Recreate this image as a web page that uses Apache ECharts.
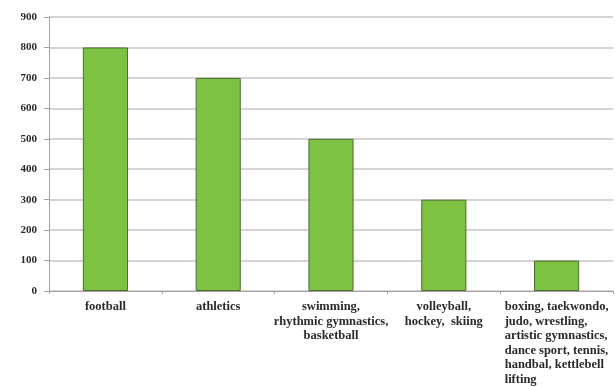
<!DOCTYPE html>
<html>
<head>
<meta charset="utf-8">
<script src="https://cdn.jsdelivr.net/npm/echarts@6/dist/echarts.min.js"></script>
<style>
  html, body { margin: 0; padding: 0; background: #fff; }
  #chart { width: 615px; height: 387px; }
</style>
</head>
<body>
<div id="chart"></div>
<script>
const categories = [
  'football',
  'athletics',
  'swimming,\nrhythmic gymnastics,\nbasketball',
  'volleyball,\nhockey,  skiing',
  'boxing, taekwondo,\njudo, wrestling,\nartistic gymnastics,\ndance sport, tennis,\nhandbal, kettlebell\nlifting'
];
const values = [800, 700, 500, 300, 100];
const yTicks = [0, 100, 200, 300, 400, 500, 600, 700, 800, 900];

const chart = echarts.init(document.getElementById('chart'), null, { renderer: 'canvas' });
const serif = '"Liberation Serif", "DejaVu Serif", serif';
const axisColor = '#a8a0a0';
const textColor = '#2a2a2a';

chart.setOption({
  animation: false,
  grid: { left: 49, right: 2, top: 17, bottom: 93 },
  xAxis: {
    type: 'category',
    data: categories,
    axisLine: { lineStyle: { color: axisColor, width: 1 } },
    axisTick: { show: true, length: 3, lineStyle: { color: axisColor } },
    axisLabel: {
      interval: 0,
      margin: 9,
      color: textColor,
      fontFamily: serif,
      fontWeight: 'bold',
      fontSize: 12.5,
      lineHeight: 14.5,
      // last label is left aligned in the source chart
      formatter: (v, i) => i === categories.length - 1 ? '{l|' + v.split('\n').join('}\n{l|') + '}' : v,
      rich: {
        l: { align: 'left', fontFamily: serif, fontWeight: 'bold', fontSize: 12.5, lineHeight: 14.5, color: textColor }
      }
    }
  },
  yAxis: {
    type: 'value',
    min: yTicks[0],
    max: yTicks[yTicks.length - 1],
    interval: 100,
    axisLine: { show: true, lineStyle: { color: axisColor } },
    axisTick: { show: true, length: 5, lineStyle: { color: axisColor } },
    axisLabel: {
      margin: 12,
      color: textColor,
      fontFamily: serif,
      fontWeight: 'bold',
      fontSize: 11
    },
    splitLine: { show: true, lineStyle: { color: '#cbc4c4', width: 1.5 } }
  },
  series: [{
    type: 'bar',
    data: values,
    barWidth: '40%',
    itemStyle: { color: '#7dc243', borderColor: '#4d6b30', borderWidth: 1 }
  }]
});
</script>
</body>
</html>
